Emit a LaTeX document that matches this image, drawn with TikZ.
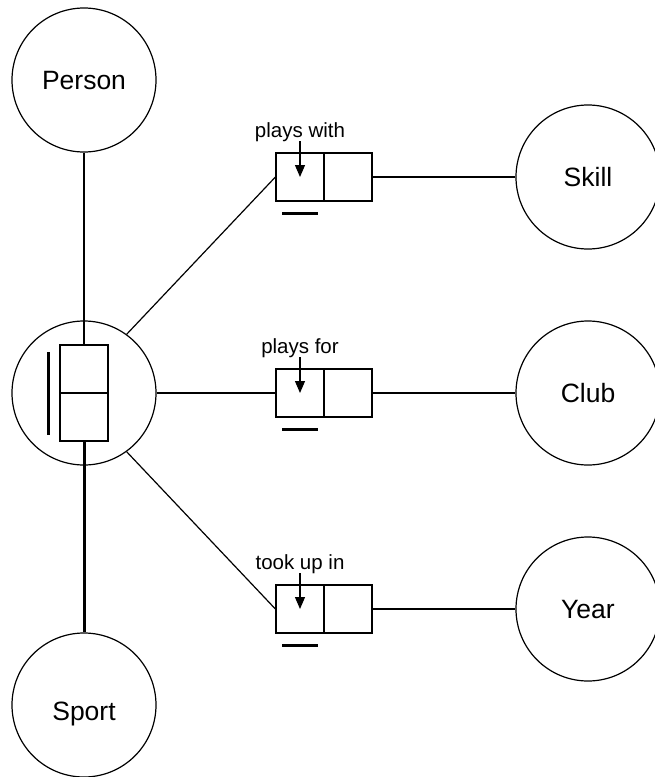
\documentclass[tikz,border=0pt]{standalone}
\usepackage{fontspec}
\setmainfont{Liberation Sans}
\usetikzlibrary{arrows.meta}
\begin{document}
\begin{tikzpicture}[x=1pt,y=-1pt,
  entity/.style={circle,draw,line width=1.2pt,minimum size=144pt,inner sep=0pt,
    font=\fontsize{26.5}{30}\selectfont,text height=19pt,text depth=0pt},
  cell/.style={rectangle,draw,line width=1.2pt,minimum size=48pt,inner sep=0pt},
  conn/.style={line width=1.2pt},
  strong/.style={line width=3pt},
  pointer/.style={line width=1.2pt,-{Triangle[length=12pt,width=10pt]}},
  rolelabel/.style={font=\fontsize{20.5}{24}\selectfont,anchor=base,inner sep=0pt}]
\useasboundingbox (0,0) rectangle (654,777);

% object types
\node[entity] (person) at (84,80) {Person};
\node[entity,text height=31pt] (sport) at (84,705) {Sport};
\node[entity] (skill) at (588,177) {Skill};
\node[entity] (club) at (588,393) {Club};
\node[entity] (year) at (588,609) {Year};

% nested fact type
\node[entity] (nested) at (84,393) {};
\node[cell] (ntop) at (84,369) {};
\node[cell] (nbot) at (84,417) {};
\draw[strong] (48,352) -- (48,435);

% binary roles: left cell, right cell, reading, arrow, uniqueness bar
\foreach \name/\y/\txt in {r1/177/plays with, r2/393/plays for, r3/609/took up in}{
  \node[cell] (\name a) at (300,\y) {};
  \node[cell] (\name b) at (348,\y) {};
  \node[rolelabel] (\name t) at ([yshift=15pt]\name a.north) {\txt};
  \draw[pointer] ([yshift=11pt]\name a.north) -- (\name a.center);
  \draw[strong] ([xshift=-18pt,yshift=-12pt]\name a.south) -- ([xshift=18pt,yshift=-12pt]\name a.south);
}

% connectors
\draw[conn] (person.south) -- (ntop.north);
\draw[strong] (nbot.south) -- (sport.north);
\draw[conn] (nested.54) -- (r1a.west);
\draw[conn] (nested.east) -- (r2a.west);
\draw[conn] (nested.-54) -- (r3a.west);
\draw[conn] (r1b.east) -- (skill.west);
\draw[conn] (r2b.east) -- (club.west);
\draw[conn] (r3b.east) -- (year.west);
\end{tikzpicture}
\end{document}
